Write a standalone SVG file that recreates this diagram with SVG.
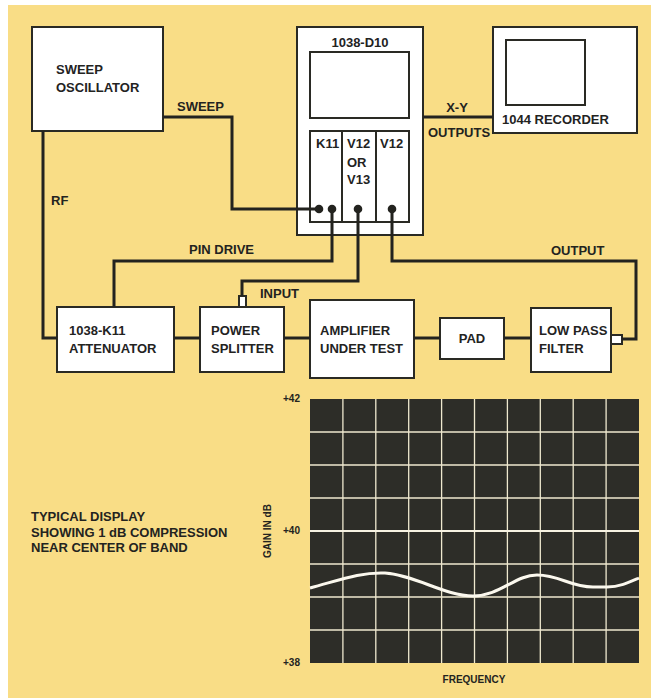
<svg xmlns="http://www.w3.org/2000/svg" width="656" height="700" viewBox="0 0 656 700">
<style>
.box{fill:#fff;stroke:#2a2a24;stroke-width:2}
.t{font-family:"Liberation Sans",Arial,sans-serif;font-weight:bold;font-size:13px;fill:#23231f}
.s{font-family:"Liberation Sans",Arial,sans-serif;font-weight:bold;font-size:10px;fill:#23231f}
.w{fill:none;stroke:#23231f;stroke-width:3;stroke-linejoin:miter}
.g{stroke:#efe9cf;stroke-width:1.3}
.d{fill:#23231f}
</style>
<rect x="0" y="0" width="656" height="700" fill="#fff"/>
<rect x="8" y="5" width="643" height="693" fill="#F9DD86"/>

<g id="sweep-oscillator">
<rect class="box" x="32" y="27" width="131" height="104"/>
<text class="t" x="56" y="74">SWEEP</text>
<text class="t" x="56" y="92">OSCILLATOR</text>
</g>

<g id="d10">
<rect class="box" x="297" y="27" width="126" height="208"/>
<text class="t" x="360" y="47" text-anchor="middle">1038-D10</text>
<rect class="box" x="310" y="52" width="99" height="66"/>
<rect class="box" x="310" y="131" width="99" height="91"/>
<line x1="342" y1="131" x2="342" y2="222" stroke="#2a2a24" stroke-width="2"/>
<line x1="376" y1="131" x2="376" y2="222" stroke="#2a2a24" stroke-width="2"/>
<text class="t" x="316" y="148">K11</text>
<text class="t" x="347" y="148">V12</text>
<text class="t" x="347" y="167">OR</text>
<text class="t" x="347" y="184">V13</text>
<text class="t" x="380" y="148">V12</text>
</g>

<g id="recorder">
<rect class="box" x="493" y="27" width="144" height="106"/>
<rect class="box" x="506" y="40" width="79" height="65"/>
<text class="t" x="502" y="124">1044 RECORDER</text>
</g>

<g id="attenuator">
<rect class="box" x="57" y="307" width="117" height="65"/>
<text class="t" x="69" y="335">1038-K11</text>
<text class="t" x="69" y="353">ATTENUATOR</text>
</g>

<g id="power-splitter">
<rect class="box" x="200" y="307" width="84" height="65"/>
<rect class="box" x="239" y="296" width="7" height="11" stroke-width="1.5"/>
<text class="t" x="211" y="335">POWER</text>
<text class="t" x="211" y="353">SPLITTER</text>
</g>

<g id="amplifier">
<rect class="box" x="310" y="300" width="104" height="78"/>
<text class="t" x="320" y="335">AMPLIFIER</text>
<text class="t" x="320" y="353">UNDER TEST</text>
</g>

<g id="pad">
<rect class="box" x="440" y="318" width="64" height="41"/>
<text class="t" x="472" y="343" text-anchor="middle">PAD</text>
</g>

<g id="low-pass-filter">
<rect class="box" x="531" y="308" width="80" height="64"/>
<rect class="box" x="611" y="335" width="11" height="9" stroke-width="1.5"/>
<text class="t" x="539" y="335">LOW PASS</text>
<text class="t" x="539" y="353">FILTER</text>
</g>

<g id="connectors">
<polyline class="w" points="163,117 232,117 232,209 319,209"/>
<polyline class="w" points="43,131 43,338 57,338"/>
<polyline class="w" points="332,209 332,261 114,261 114,307"/>
<polyline class="w" points="358,209 358,281 242,281 242,296"/>
<polyline class="w" points="392,209 392,261 636,261 636,339 622,339"/>
<line class="w" x1="423" y1="117" x2="493" y2="117"/>
<line class="w" x1="174" y1="338" x2="200" y2="338"/>
<line class="w" x1="284" y1="338" x2="310" y2="338"/>
<line class="w" x1="414" y1="338" x2="440" y2="338"/>
<line class="w" x1="504" y1="338" x2="531" y2="338"/>
<circle class="d" cx="319" cy="209" r="4.3"/>
<circle class="d" cx="332" cy="209" r="4.3"/>
<circle class="d" cx="358" cy="209" r="4.3"/>
<circle class="d" cx="392" cy="209" r="4.3"/>
<text class="t" x="177" y="111">SWEEP</text>
<text class="t" x="51" y="205">RF</text>
<text class="t" x="189" y="254">PIN DRIVE</text>
<text class="t" x="260" y="298">INPUT</text>
<text class="t" x="551" y="255">OUTPUT</text>
<text class="t" x="457" y="112" text-anchor="middle">X-Y</text>
<text class="t" x="428" y="137">OUTPUTS</text>
</g>

<g id="display">
<rect x="310" y="399" width="329" height="264" fill="#2d2d28"/>
<g class="g">
<line x1="342.9" y1="399" x2="342.9" y2="663"/>
<line x1="375.8" y1="399" x2="375.8" y2="663"/>
<line x1="408.7" y1="399" x2="408.7" y2="663"/>
<line x1="441.6" y1="399" x2="441.6" y2="663"/>
<line x1="474.5" y1="399" x2="474.5" y2="663"/>
<line x1="507.4" y1="399" x2="507.4" y2="663"/>
<line x1="540.3" y1="399" x2="540.3" y2="663"/>
<line x1="573.2" y1="399" x2="573.2" y2="663"/>
<line x1="606.1" y1="399" x2="606.1" y2="663"/>
<line x1="310" y1="432" x2="639" y2="432"/>
<line x1="310" y1="465" x2="639" y2="465"/>
<line x1="310" y1="498" x2="639" y2="498"/>
<line x1="310" y1="564" x2="639" y2="564"/>
<line x1="310" y1="597" x2="639" y2="597"/>
<line x1="310" y1="630" x2="639" y2="630"/>
</g>
<line x1="310" y1="531" x2="639" y2="531" stroke="#f6f2e2" stroke-width="2"/>
<path d="M310,588 C340,580 360,572 385,573 C415,575 445,596 473,596 C500,596 515,575 537,575 C560,575 570,587 593,587 L607,587 C620,587 630,582 639,578" fill="none" stroke="#fbf8ee" stroke-width="3"/>
<text class="s" x="283" y="402">+42</text>
<text class="s" x="283" y="534">+40</text>
<text class="s" x="283" y="666">+38</text>
<text class="s" x="0" y="0" transform="translate(271,531) rotate(-90)" text-anchor="middle">GAIN IN dB</text>
<text class="s" x="474" y="683" text-anchor="middle">FREQUENCY</text>
</g>

<g id="caption">
<text class="t" x="31" y="521">TYPICAL DISPLAY</text>
<text class="t" x="31" y="537">SHOWING 1 dB COMPRESSION</text>
<text class="t" x="31" y="552">NEAR CENTER OF BAND</text>
</g>
</svg>
